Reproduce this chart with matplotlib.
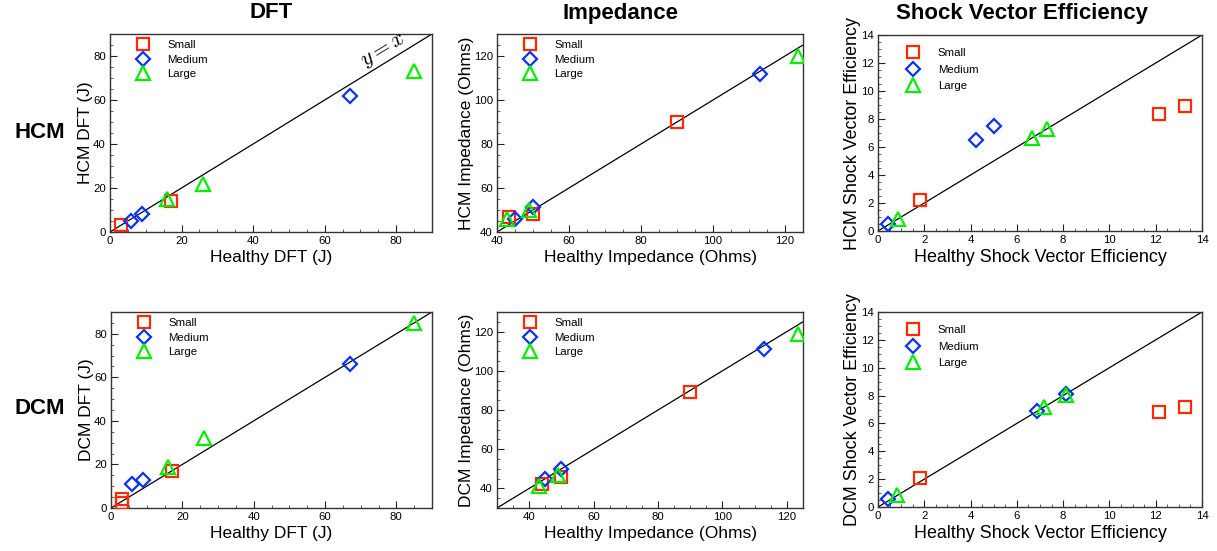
import matplotlib
matplotlib.use("Agg")
import matplotlib.pyplot as plt
from matplotlib.ticker import MultipleLocator

plt.rcParams['font.family'] = ['Liberation Sans', 'DejaVu Sans']
plt.rcParams['mathtext.fontset'] = 'cm'

W, H = 1217, 551

# ---------------- data ----------------
groups = ["Small", "Medium", "Large"]

hcm_dft_x = {"Small": [3, 17], "Medium": [6, 9, 67], "Large": [16, 26, 85]}
hcm_dft_y = {"Small": [3, 14], "Medium": [5, 8, 62], "Large": [15, 22, 73]}

dcm_dft_x = {"Small": [3, 3, 17], "Medium": [6, 9, 67], "Large": [16, 26, 85]}
dcm_dft_y = {"Small": [2.5, 4, 17], "Medium": [11, 13, 66], "Large": [19, 32, 85]}

hcm_imp_x = {"Small": [43.2, 50, 90], "Medium": [45, 50, 113], "Large": [42.8, 49, 123.7]}
hcm_imp_y = {"Small": [47, 48, 90], "Medium": [46, 51.4, 112], "Large": [46, 50.2, 119.8]}

dcm_imp_x = {"Small": [44, 50, 90], "Medium": [45, 50, 113], "Large": [43, 49, 123.5]}
dcm_imp_y = {"Small": [42, 46, 89], "Medium": [45, 50, 111], "Large": [41, 47, 119]}

hcm_sve_x = {"Small": [1.83, 12.16, 13.28], "Medium": [0.42, 4.25, 5.03], "Large": [0.85, 6.67, 7.3]}
hcm_sve_y = {"Small": [2.25, 8.38, 8.9], "Medium": [0.53, 6.51, 7.47], "Large": [0.84, 6.63, 7.27]}

dcm_sve_x = {"Small": [1.83, 12.15, 13.28], "Medium": [0.43, 6.86, 8.11], "Large": [0.82, 7.17, 8.11]}
dcm_sve_y = {"Small": [2.08, 6.8, 7.18], "Medium": [0.57, 6.92, 8.11], "Large": [0.89, 7.15, 8.06]}

col_titles = ["DFT", "Impedance", "Shock Vector Efficiency"]
row_titles = ["HCM", "DCM"]

# ---------------- styles ----------------
colors = {"Small": "#ff2a00", "Medium": "#0a32ff", "Large": "#00ee00"}
markers = {"Small": "s", "Medium": "D", "Large": "^"}
msize = {"Small": 8.8, "Medium": 7.2, "Large": 9.8}

fig = plt.figure(figsize=(W / 100, H / 100), dpi=100)


def add_ax(l, r, t, b):
    return fig.add_axes([l / W, 1 - b / H, (r - l) / W, (b - t) / H])


panels = [
    ((110, 432, 34, 232), hcm_dft_x, hcm_dft_y, (0, 90), (0, 90), 20, 5,
     "Healthy DFT (J)", "HCM DFT (J)"),
    ((497, 803, 34, 232), hcm_imp_x, hcm_imp_y, (40, 125), (40, 130), 20, 5,
     "Healthy Impedance (Ohms)", "HCM Impedance (Ohms)"),
    ((878, 1202, 35, 231), hcm_sve_x, hcm_sve_y, (0, 14), (0, 14), 2, 0.5,
     "Healthy Shock Vector Efficiency", "HCM Shock Vector Efficiency"),
    ((111, 432, 312, 508), dcm_dft_x, dcm_dft_y, (0, 90), (0, 90), 20, 5,
     "Healthy DFT (J)", "DCM DFT (J)"),
    ((497, 803, 312, 508), dcm_imp_x, dcm_imp_y, (30, 125), (30, 130), 20, 5,
     "Healthy Impedance (Ohms)", "DCM Impedance (Ohms)"),
    ((878, 1202, 312, 507), dcm_sve_x, dcm_sve_y, (0, 14), (0, 14), 2, 0.5,
     "Healthy Shock Vector Efficiency", "DCM Shock Vector Efficiency"),
]

axes = []
for i, (box, xd, yd, xl, yl, maj, mnr, xlab, ylab) in enumerate(panels):
    ax = add_ax(*box)
    axes.append(ax)
    lo = min(xl[0], yl[0])
    hi = max(xl[1], yl[1])
    ax.plot([lo, hi], [lo, hi], color="black", lw=0.9, zorder=1)
    for g in groups:
        ax.plot(xd[g], yd[g], linestyle="none", marker=markers[g], ms=msize[g],
                mfc="none", mec=colors[g], mew=1.6, label=g, zorder=3)
    ax.set_xlim(*xl)
    ax.set_ylim(*yl)
    ax.xaxis.set_major_locator(MultipleLocator(maj))
    ax.yaxis.set_major_locator(MultipleLocator(maj))
    ax.xaxis.set_minor_locator(MultipleLocator(mnr))
    ax.yaxis.set_minor_locator(MultipleLocator(mnr))
    ax.tick_params(which="major", direction="in", length=5, width=0.8,
                   labelsize=8.2, colors="#222222", labelcolor="black")
    ax.tick_params(axis="x", which="major", pad=3)
    ax.tick_params(axis="y", which="major", pad=3)
    ax.tick_params(which="minor", direction="in", length=2.5, width=0.6,
                   colors="#444444")
    for s in ax.spines.values():
        s.set_color("#333333")
        s.set_linewidth(1.0)
    sve = (i % 3 == 2)
    lfs = 12.9 if sve else 12.5
    ax.set_xlabel(xlab, fontsize=lfs, labelpad=3)
    ax.set_ylabel(ylab, fontsize=lfs, labelpad=0)
    w_px = box[1] - box[0]
    if sve:
        ax.legend(loc="upper left", bbox_to_anchor=(28.2 / w_px, 0.935),
                  frameon=False, fontsize=8.2, handlelength=1.2,
                  handletextpad=1.59, labelspacing=0.6,
                  borderpad=0.0, borderaxespad=0.0)
    else:
        ax.legend(loc="upper left", bbox_to_anchor=(26.5 / w_px, 0.968),
                  frameon=False, fontsize=8.2, handlelength=1.2,
                  handletextpad=1.5, labelspacing=0.4,
                  borderpad=0.0, borderaxespad=0.0)

# y = x annotation on first panel
axes[0].text(76.5, 82.5, r"$y = x$", fontsize=16, rotation=31.6,
             rotation_mode="anchor", ha="center", va="center")

# column titles
for x, t in zip([271, 620, 1022], col_titles):
    fig.text(x / W, 1 - 13 / H, t, fontsize=16, fontweight="bold",
             ha="center", va="center")
# row titles
for y, t in zip([133, 408], row_titles):
    fig.text(40 / W, 1 - y / H, t, fontsize=16, fontweight="bold",
             ha="center", va="center")

fig.savefig("out.png", dpi=100)
